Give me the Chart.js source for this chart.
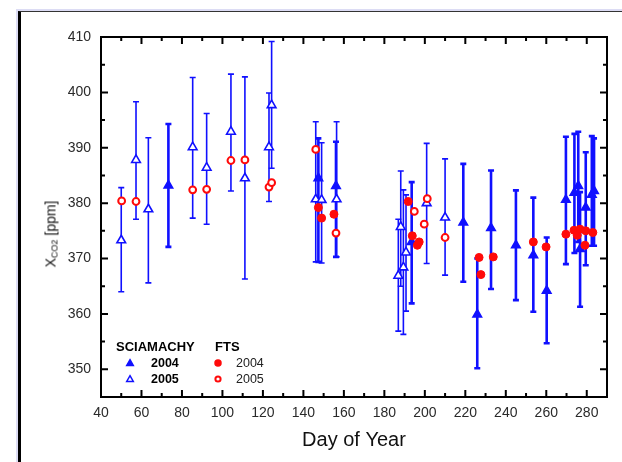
<!DOCTYPE html>
<html><head><meta charset="utf-8">
<script src="https://cdn.jsdelivr.net/npm/chart.js@4.4.1/dist/chart.umd.min.js"></script>
<style>
html,body{margin:0;padding:0;background:#fff;width:622px;height:462px;overflow:hidden;}
#frame{position:absolute;left:16px;top:9px;width:640px;height:480px;border-left:2px solid #dcdcf4;border-top:2px solid #dcdcf4;}
#frameInner{position:absolute;left:0;top:0;right:0;bottom:0;border-left:3px solid #000;border-top:1.5px solid #333;}
#c{position:absolute;left:0;top:0;}
#ytitle{position:absolute;left:51px;top:234px;transform:translate(-50%,-50%) rotate(-90deg);font:14px "Liberation Sans",Arial,sans-serif;white-space:nowrap;color:#111;}
#ytitle sub{font-size:9px;vertical-align:-2px;}
</style></head>
<body>
<div id="frame"><div id="frameInner"></div></div>
<canvas id="c" width="622" height="462"></canvas>
<div id="ytitle">X<sub>CO2</sub> [ppm]</div>
<script>
// ---- axis ticks ----
const xTicks = [40,60,80,100,120,140,160,180,200,220,240,260,280];
const yTicks = [350,360,370,380,390,400,410];

// ---- SCIAMACHY 2004 (filled triangles) ----
const scia04Day  = [73.3, 147.4, 156.1, 193.5, 219.0, 225.9, 232.7, 245.0, 253.6, 260.2, 269.7, 273.9, 275.8, 276.7, 279.5, 282.5, 283.6];
const scia04Val  = [383.2, 384.5, 383.1, 373.0, 376.5, 359.9, 375.5, 372.4, 370.6, 364.2, 380.6, 381.9, 383.1, 371.7, 379.2, 381.5, 382.2];
const scia04Low  = [372.1, 369.4, 370.3, 361.9, 365.8, 350.2, 364.5, 362.5, 360.4, 354.7, 369.0, 371.0, 373.0, 361.3, 368.8, 372.3, 372.3];
const scia04High = [394.3, 391.7, 391.1, 383.8, 387.1, 370.0, 385.9, 382.3, 381.0, 373.8, 392.0, 392.5, 392.9, 382.0, 389.2, 392.1, 391.7];

// ---- SCIAMACHY 2005 (open triangles) ----
const scia05Day  = [50.0, 57.3, 63.4, 85.3, 92.2, 104.2, 111.1, 123.0, 124.3, 146.1, 149.0, 156.4, 186.9, 188.1, 189.4, 190.7, 200.9, 210.0];
const scia05Val  = [373.3, 387.8, 378.9, 390.1, 386.4, 392.9, 384.5, 390.1, 397.7, 380.7, 380.6, 380.7, 366.9, 375.7, 368.4, 371.1, 380.0, 377.4];
const scia05Low  = [364.0, 377.1, 365.6, 377.3, 376.2, 382.2, 366.3, 380.3, 386.3, 369.4, 369.2, 370.3, 356.9, 365.0, 356.3, 360.5, 369.1, 367.0];
const scia05High = [382.8, 398.3, 391.8, 402.7, 396.2, 403.3, 402.8, 399.9, 409.2, 394.7, 390.9, 394.7, 377.1, 385.8, 382.4, 381.5, 390.8, 388.0];

// ---- FTS 2004 (filled circles) ----
const fts04Day = [147.4, 149.0, 155.1, 191.8, 193.8, 196.3, 197.2, 226.8, 227.7, 233.8, 253.6, 259.9, 269.7, 273.7, 275.3, 276.7, 279.1, 279.5, 283.0];
const fts04Val = [379.2, 377.3, 378.0, 380.3, 374.1, 372.4, 373.0, 370.2, 367.1, 370.3, 373.0, 372.1, 374.4, 375.1, 374.2, 375.3, 372.4, 375.0, 374.7];

// ---- FTS 2005 (open circles) ----
const fts05Day = [50.2, 57.3, 85.3, 92.2, 104.2, 111.1, 123.0, 124.3, 146.1, 156.1, 194.8, 199.7, 201.2, 210.0];
const fts05Val = [380.4, 380.3, 382.4, 382.5, 387.7, 387.8, 382.9, 383.7, 389.7, 374.6, 378.5, 376.2, 380.8, 373.8];

const BLUE = '#1010ff', RED = '#ff0a0a';
const FONT = '"Liberation Sans", Arial, sans-serif';

function pts(d, v, lo, hi) {
  return d.map((x, i) => lo ? {x: x, y: v[i], lo: lo[i], hi: hi[i]} : {x: x, y: v[i]});
}

const errorBars = {
  id: 'errorBars',
  beforeDatasetsDraw(chart) {
    const ctx = chart.ctx, xs = chart.scales.x, ys = chart.scales.y;
    ctx.save();
    ctx.strokeStyle = BLUE;
    chart.data.datasets.forEach((ds) => {
      if (!ds.errBars) return;
      ctx.lineWidth = ds.errWidth;
      ds.data.forEach(p => {
        const px = xs.getPixelForValue(p.x);
        const y1 = ys.getPixelForValue(p.lo), y2 = ys.getPixelForValue(p.hi);
        ctx.beginPath();
        ctx.moveTo(px, y1); ctx.lineTo(px, y2);
        ctx.moveTo(px - 3, y1); ctx.lineTo(px + 3, y1);
        ctx.moveTo(px - 3, y2); ctx.lineTo(px + 3, y2);
        ctx.stroke();
      });
    });
    ctx.restore();
  }
};

const frameTicks = {
  id: 'frameTicks',
  afterDatasetsDraw(chart) {
    const ctx = chart.ctx, a = chart.chartArea, xs = chart.scales.x, ys = chart.scales.y;
    ctx.save();
    ctx.strokeStyle = '#000';
    ctx.lineWidth = 2;
    ctx.strokeRect(a.left, a.top, a.right - a.left, a.bottom - a.top);
    ctx.beginPath();
    xTicks.forEach(v => {
      const px = xs.getPixelForValue(v);
      ctx.moveTo(px, a.bottom); ctx.lineTo(px, a.bottom - 7);
      ctx.moveTo(px, a.top); ctx.lineTo(px, a.top + 7);
      const m = v + 10;
      if (m < xs.max) {
        const pm = xs.getPixelForValue(m);
        ctx.moveTo(pm, a.bottom); ctx.lineTo(pm, a.bottom - 4);
        ctx.moveTo(pm, a.top); ctx.lineTo(pm, a.top + 4);
      }
    });
    yTicks.forEach(v => {
      const py = ys.getPixelForValue(v);
      ctx.moveTo(a.left, py); ctx.lineTo(a.left + 7, py);
      ctx.moveTo(a.right, py); ctx.lineTo(a.right - 7, py);
      const m = v - 5;
      if (m > ys.min) {
        const pm = ys.getPixelForValue(m);
        ctx.moveTo(a.left, pm); ctx.lineTo(a.left + 4, pm);
        ctx.moveTo(a.right, pm); ctx.lineTo(a.right - 4, pm);
      }
    });
    ctx.stroke();

    // x title
    ctx.fillStyle = '#111';
    ctx.font = '20px ' + FONT;
    ctx.textAlign = 'center';
    ctx.textBaseline = 'middle';
    ctx.fillText('Day of Year', (a.left + a.right) / 2, 440);

    // legend
    const H = Chart.helpers;
    ctx.textAlign = 'left';
    ctx.fillStyle = '#000';
    ctx.font = 'bold 13px ' + FONT;
    ctx.fillText('SCIAMACHY', 116, 347);
    ctx.fillText('FTS', 215, 347);
    ctx.font = 'bold 12.5px ' + FONT;
    ctx.fillText('2004', 151, 363.5);
    ctx.fillText('2005', 151, 379.5);
    ctx.font = '12.5px ' + FONT;
    ctx.fillStyle = '#222';
    ctx.fillText('2004', 236, 363.5);
    ctx.fillText('2005', 236, 379.5);
    ctx.lineWidth = 1.5;
    ctx.strokeStyle = BLUE; ctx.fillStyle = BLUE;
    H.drawPoint(ctx, {pointStyle: 'triangle', radius: 3.8, borderWidth: 1.5}, 130, 363.5);
    ctx.fillStyle = '#fff';
    H.drawPoint(ctx, {pointStyle: 'triangle', radius: 3.8, borderWidth: 1.5}, 130, 379.5);
    ctx.strokeStyle = RED; ctx.fillStyle = RED;
    H.drawPoint(ctx, {pointStyle: 'circle', radius: 3, borderWidth: 1.5}, 218, 363);
    ctx.fillStyle = '#fff';
    ctx.lineWidth = 2;
    H.drawPoint(ctx, {pointStyle: 'circle', radius: 2.6, borderWidth: 2}, 218, 379);
    ctx.restore();
  }
};

new Chart(document.getElementById('c'), {
  type: 'scatter',
  data: {
    datasets: [
      {label: 'FTS 2004', data: pts(fts04Day, fts04Val), order: 0,
       pointStyle: 'circle', pointRadius: 4, pointBackgroundColor: RED, pointBorderColor: RED, pointBorderWidth: 1},
      {label: 'FTS 2005', data: pts(fts05Day, fts05Val), order: 0,
       pointStyle: 'circle', pointRadius: 3.4, pointBackgroundColor: '#fff', pointBorderColor: RED, pointBorderWidth: 2},
      {label: 'SCIAMACHY 2004', data: pts(scia04Day, scia04Val, scia04Low, scia04High), order: 1,
       errBars: true, errWidth: 2.6,
       pointStyle: 'triangle', pointRadius: 5, pointBackgroundColor: BLUE, pointBorderColor: BLUE, pointBorderWidth: 1.5},
      {label: 'SCIAMACHY 2005', data: pts(scia05Day, scia05Val, scia05Low, scia05High), order: 1,
       errBars: true, errWidth: 1.6,
       pointStyle: 'triangle', pointRadius: 5, pointBackgroundColor: '#fff', pointBorderColor: BLUE, pointBorderWidth: 1.6}
    ]
  },
  options: {
    responsive: false,
    animation: false,
    layout: {padding: {top: 37, right: 15, left: 0, bottom: 0}},
    plugins: {legend: {display: false}, tooltip: {enabled: false}},
    scales: {
      x: {
        type: 'linear', min: 40, max: 290,
        afterBuildTicks: s => { s.ticks = xTicks.map(v => ({value: v})); },
        afterFit: s => { s.height = 65; },
        grid: {display: false, drawTicks: false}, border: {display: false},
        ticks: {padding: 8, color: '#2a2a2a', font: {family: FONT, size: 14}, maxRotation: 0, autoSkip: false}
      },
      y: {
        type: 'linear', min: 345, max: 410,
        afterBuildTicks: s => { s.ticks = yTicks.map(v => ({value: v})); },
        afterFit: s => { s.width = 101; },
        grid: {display: false, drawTicks: false}, border: {display: false},
        ticks: {padding: 10, color: '#2a2a2a', font: {family: FONT, size: 14}, autoSkip: false}
      }
    }
  },
  plugins: [errorBars, frameTicks]
});
</script>
</body></html>
